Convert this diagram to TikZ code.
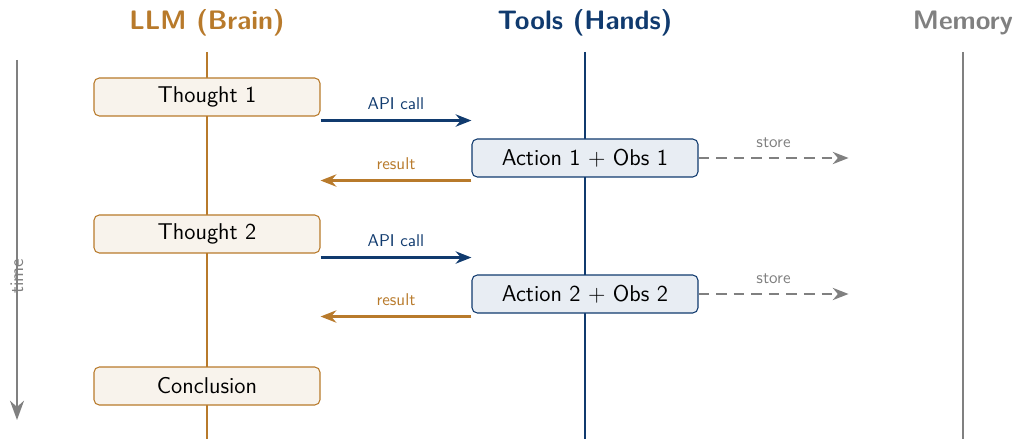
\documentclass[tikz,border=0pt]{standalone}
\usepackage{fontspec}
\usetikzlibrary{arrows.meta}

\definecolor{brain}{RGB}{184,122,43}
\definecolor{hand}{RGB}{16,58,110}
\definecolor{memgray}{RGB}{128,128,128}
\definecolor{brainbg}{RGB}{248,243,236}
\definecolor{handbg}{RGB}{232,237,243}

\begin{document}
\begin{tikzpicture}[font=\sffamily,
  head/.style={anchor=base,font=\sffamily\fontsize{15.2}{18}\selectfont\bfseries},
  box/.style={draw,rounded corners=3pt,line width=0.6pt,minimum width=4.52cm,minimum height=0.76cm,font=\sffamily\fontsize{13}{15}\selectfont},
  msg/.style={line width=1.3pt,-{Stealth[length=9pt,width=7pt]}},
  lbl/.style={above=2pt,font=\sffamily\fontsize{9.7}{12}\selectfont}]
\useasboundingbox (0,0) rectangle (20.32,-8.78);
\coordinate (bot) at (0,-8.78);

% lanes
\node[head,text=brain] (llm) at (4.14,-0.6) {LLM (Brain)};
\node[head,text=hand] (tools) at (11.7,-0.6) {Tools (Hands)};
\node[head,text=memgray] (mem) at (19.26,-0.6) {Memory};
\foreach \n/\c in {llm/brain,tools/hand,mem/memgray}
  \draw[\c,line width=1.1pt] ([yshift=-0.44cm]\n.base) -- (\n.base |- bot);

% time axis
\coordinate (time top) at (0.34,-1.2);
\coordinate (time end) at (0.34,-8.4);
\draw[memgray,line width=1.1pt,-{Stealth[length=11pt,width=8pt]}] (time top) -- (time end)
  node[pos=0.6,rotate=90,font=\sffamily\fontsize{11}{13}\selectfont] {time};

% steps
\node[box,draw=brain,fill=brainbg] (t1) at (4.14,-1.94) {Thought 1};
\node[box,draw=hand,fill=handbg] (a1) at (11.7,-3.16) {Action 1 + Obs 1};
\node[box,draw=brain,fill=brainbg] (t2) at (4.14,-4.68) {Thought 2};
\node[box,draw=hand,fill=handbg] (a2) at (11.7,-5.88) {Action 2 + Obs 2};
\node[box,draw=brain,fill=brainbg] (c) at (4.14,-7.72) {Conclusion};

% messages
\foreach \t/\a in {t1/a1,t2/a2} {
  \draw[msg,hand] ([yshift=-0.08cm]\t.south east) -- ([yshift=-0.08cm]\t.south east -| \a.west)
    node[midway,lbl,text=hand] {API call};
  \draw[msg,brain] ([yshift=-0.06cm]\a.south west) -- ([yshift=-0.06cm]\a.south west -| \t.east)
    node[midway,lbl,text=brain] {result};
  \draw[msg,memgray,line width=1.1pt,dash pattern=on 6pt off 4pt] (\a.east) -- ++(3,0)
    node[midway,lbl,text=memgray] {store};
}
\end{tikzpicture}
\end{document}
